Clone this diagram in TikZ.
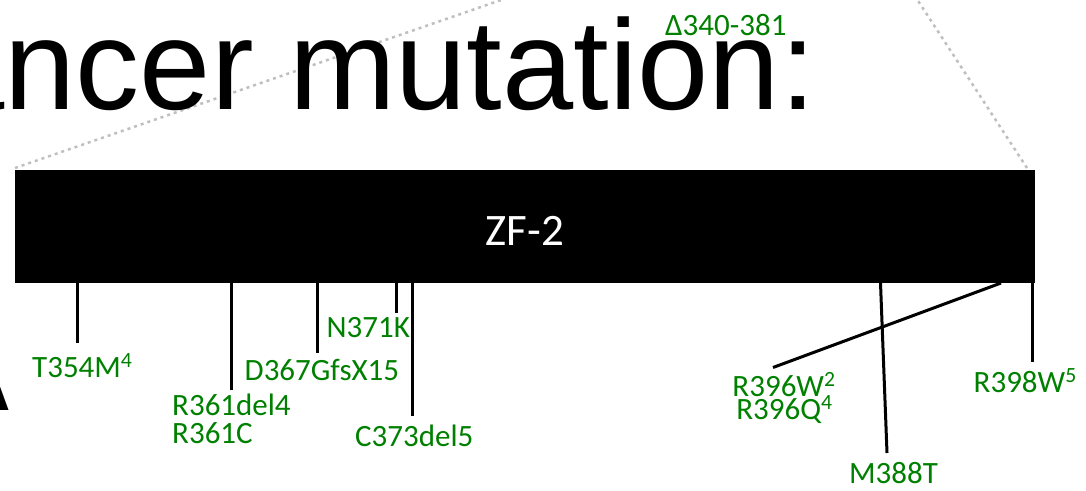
\documentclass[tikz,border=0pt]{standalone}
\usepackage{fontspec}
\setmainfont{Carlito}
\newfontfamily\slidefont{Liberation Sans}
\definecolor{mutgreen}{RGB}{0,128,0}
\tikzset{
  mut/.style={text=mutgreen, font=\fontsize{31}{31}\selectfont, inner sep=0pt, anchor=base west},
  mutc/.style={mut, anchor=base},
  tickline/.style={line width=3pt, black},
  zoomline/.style={gray!50, line width=2.5pt, dash pattern=on 3pt off 4pt}
}
\begin{document}
\begin{tikzpicture}[x=1pt,y=-1pt]
\useasboundingbox (0,0) rectangle (1086,490);
% zoom lines from the full protein
\draw[zoomline] (15,168) -- (530,-10);
\draw[zoomline] (1027,168) -- (911,-10);
% title and panel letter
\node[anchor=base west, inner sep=0pt, font=\slidefont\fontsize{128}{128}\selectfont] (title) at (-159,109) {Cancer mutation:};
\node[anchor=base east, inner sep=0pt, font=\slidefont\bfseries\fontsize{110}{110}\selectfont] (panel) at (12,410) {A};
\node[mut] (del340) at (665,35) {Δ340-381};
% ZF-2 domain
\node[fill=black, minimum width=1020pt, minimum height=113pt, inner sep=0pt, anchor=north west] (bar) at (15,170) {};
\node[text=white, font=\fontsize{45}{45}\selectfont, anchor=base, inner sep=0pt] (zf) at (525,245) {ZF-2};
% mutation ticks
\coordinate (a354) at (77,283);    \coordinate (b354) at (77,343);
\coordinate (a361) at (231,283);   \coordinate (b361) at (231,390);
\coordinate (a367) at (317.5,283); \coordinate (b367) at (317.5,353);
\coordinate (a371) at (396,283);   \coordinate (b371) at (396,313);
\coordinate (a373) at (412.5,283); \coordinate (b373) at (412.5,416);
\coordinate (a388) at (880.5,283); \coordinate (b388) at (887,453);
\coordinate (a396) at (1001,283);  \coordinate (b396) at (773,367.5);
\coordinate (a398) at (1032,283);  \coordinate (b398) at (1032,362);
\draw[tickline] (a354) -- (b354);
\draw[tickline] (a361) -- (b361);
\draw[tickline] (a367) -- (b367);
\draw[tickline] (a371) -- (b371);
\draw[tickline] (a373) -- (b373);
\draw[tickline] (a388) -- (b388);
\draw[tickline] (a396) -- (b396);
\draw[tickline] (a398) -- (b398);
% labels
\node[mut] (t354) at (32,377) {T354M\textsuperscript{4}};
\node[mut] (r361a) at (172,415) {R361del4};
\node[mut] (r361b) at (172,443) {R361C};
\node[mut] (d367) at (244.5,380) {D367GfsX15};
\node[mut] (n371) at (326.5,337) {N371K};
\node[mut] (c373) at (355,446) {C373del5};
\node[mutc] (r396a) at (784,396) {R396W\textsuperscript{2}};
\node[mutc] (r396b) at (784.5,419) {R396Q\textsuperscript{4}};
\node[mut] (m388) at (849,483) {M388T};
\node[mut] (r398) at (973.5,392) {R398W\textsuperscript{5}};
\end{tikzpicture}
\end{document}
